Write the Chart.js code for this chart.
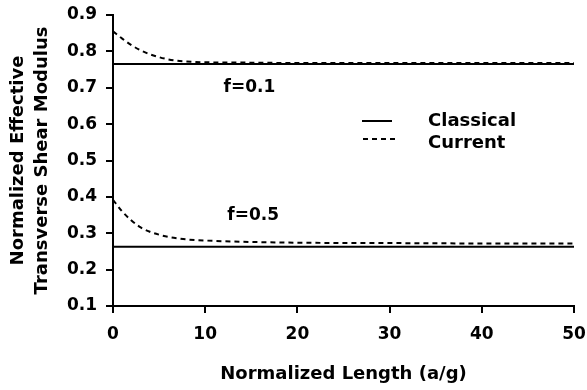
<!DOCTYPE html>
<html>
<head>
<meta charset="utf-8">
<script src="https://cdn.jsdelivr.net/npm/chart.js@4.4.1/dist/chart.umd.min.js"></script>
<style>
  html, body { margin: 0; padding: 0; background: #fff; }
  #wrap { width: 587px; height: 390px; }
</style>
</head>
<body>
<div id="wrap"><canvas id="chart" width="587" height="390"></canvas></div>
<script>
// Dados
const lengths = [0, 1, 2, 3, 4, 5, 6, 7, 8, 10, 15, 20, 30, 40, 50];
const current01 = [0.855, 0.835, 0.817, 0.803, 0.792, 0.784, 0.778, 0.774, 0.772, 0.770, 0.769, 0.768, 0.768, 0.768, 0.768];
const current05 = [0.392, 0.360, 0.335, 0.316, 0.304, 0.296, 0.290, 0.286, 0.283, 0.280, 0.276, 0.274, 0.273, 0.272, 0.272];
const classicalX = [0, 50];
const classical01 = [0.765, 0.765];
const classical05 = [0.263, 0.263];
const xTicks = [0, 10, 20, 30, 40, 50];
const yTicks = [0.1, 0.2, 0.3, 0.4, 0.5, 0.6, 0.7, 0.8, 0.9];
const legendLabels = ['Classical', 'Current'];
const curveLabels = [{ text: 'f=0.1', x: 14.8, y: 0.70 }, { text: 'f=0.5', x: 15.2, y: 0.349 }];

const FONT = "'DejaVu Sans', sans-serif";
const toPts = (xs, ys) => xs.map((x, i) => ({ x: x, y: ys[i] }));

// textos e legenda desenhados por cima do gráfico
const overlay = {
    id: 'overlay',
    afterDraw(chart) {
        const ctx = chart.ctx;
        const xs = chart.scales.x, ys = chart.scales.y;
        ctx.save();
        ctx.fillStyle = '#000';
        ctx.font = 'bold 17px ' + FONT;
        ctx.textAlign = 'center';
        ctx.textBaseline = 'middle';
        curveLabels.forEach(l => ctx.fillText(l.text, xs.getPixelForValue(l.x), ys.getPixelForValue(l.y)));

        // legenda
        ctx.strokeStyle = '#000';
        ctx.lineWidth = 2;
        ctx.beginPath(); ctx.moveTo(362, 121); ctx.lineTo(392, 121); ctx.stroke();
        ctx.setLineDash([5, 4]);
        ctx.beginPath(); ctx.moveTo(363, 139); ctx.lineTo(396, 139); ctx.stroke();
        ctx.setLineDash([]);
        ctx.font = 'bold 18px ' + FONT;
        ctx.textAlign = 'left';
        ctx.fillText(legendLabels[0], 428, 121);
        ctx.fillText(legendLabels[1], 428, 143);
        ctx.restore();
    }
};

const lineBase = { borderColor: '#000', borderWidth: 2, pointRadius: 0, fill: false };

new Chart(document.getElementById('chart').getContext('2d'), {
    type: 'line',
    data: {
        datasets: [
            { ...lineBase, label: 'Classical f=0.1', data: toPts(classicalX, classical01) },
            { ...lineBase, label: 'Classical f=0.5', data: toPts(classicalX, classical05) },
            { ...lineBase, label: 'Current f=0.1', data: toPts(lengths, current01), borderDash: [5, 4], cubicInterpolationMode: 'monotone' },
            { ...lineBase, label: 'Current f=0.5', data: toPts(lengths, current05), borderDash: [5, 4], cubicInterpolationMode: 'monotone' }
        ]
    },
    options: {
        responsive: false,
        animation: false,
        layout: { padding: { top: 15, right: 13, left: 0, bottom: 0 } },
        plugins: { legend: { display: false }, tooltip: { enabled: false } },
        scales: {
            x: {
                type: 'linear', min: 0, max: 50,
                afterBuildTicks: s => { s.ticks = xTicks.map(v => ({ value: v })); },
                afterFit: s => { s.height = 84; s.paddingLeft = 0; s.paddingRight = 0; },
                grid: { drawOnChartArea: false, drawTicks: true, tickLength: 7, color: '#000', lineWidth: 2 },
                border: { color: '#000', width: 2 },
                ticks: { color: '#000', padding: 11, maxRotation: 0, font: { family: FONT, weight: 'bold', size: 17 } },
                title: { display: true, text: 'Normalized Length (a/g)', color: '#000', padding: { top: 0, bottom: 5 },
                    font: { family: FONT, weight: 'bold', size: 18 } }
            },
            y: {
                type: 'linear', min: 0.1, max: 0.9,
                afterBuildTicks: s => { s.ticks = yTicks.map(v => ({ value: v })); },
                afterFit: s => { s.width = 113; s.paddingTop = 0; s.paddingBottom = 0; },
                grid: { drawOnChartArea: false, drawTicks: true, tickLength: 7, color: '#000', lineWidth: 2 },
                border: { color: '#000', width: 2 },
                ticks: { color: '#000', padding: 9, callback: v => v.toFixed(1), font: { family: FONT, weight: 'bold', size: 17 } },
                title: { display: true, text: ['Normalized Effective', 'Transverse Shear Modulus'], color: '#000',
                    padding: { top: 6, bottom: 4 }, font: { family: FONT, weight: 'bold', size: 18, lineHeight: 1.35 } }
            }
        }
    },
    plugins: [overlay]
});
</script>
</body>
</html>
